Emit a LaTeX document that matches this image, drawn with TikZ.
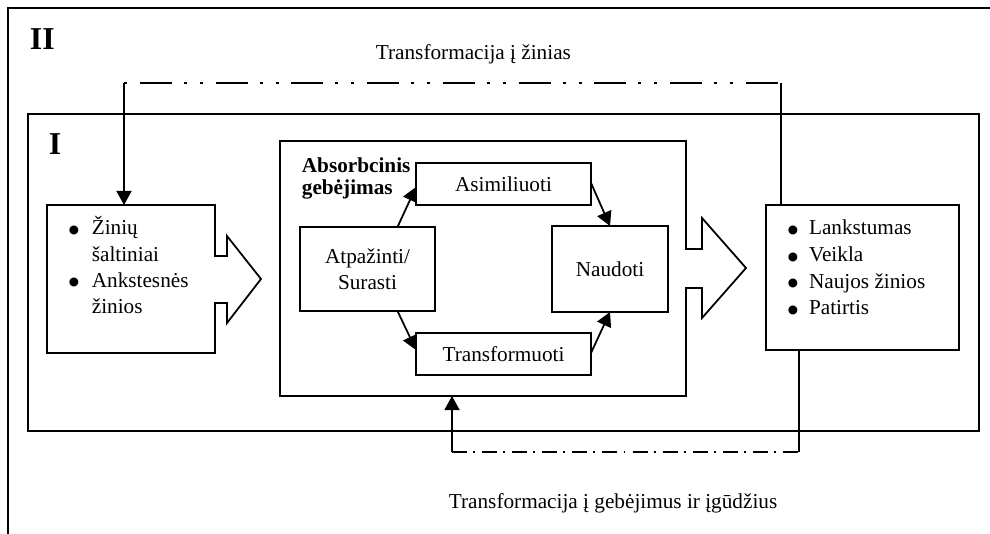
\documentclass[tikz,border=0pt]{standalone}
\usepackage{fontspec}
\setmainfont{Liberation Serif}
\newfontfamily\symfont{DejaVu Sans}
\usetikzlibrary{positioning}
\usetikzlibrary{calc}
\usetikzlibrary{arrows.meta}

\newcommand{\dpx}{0.565pt}
\newcommand{\blt}{\raisebox{0.8pt}{\symfont\fontsize{6.6}{7}\selectfont ●}}

\begin{document}
\begin{tikzpicture}[
    x=\dpx, y=-\dpx,  % one unit is one pixel of the sketch, downwards
    line width=1pt,
    ]
% -------------------------------------------------
\tikzset{
  txt/.style={inner sep=0pt, font=\fontsize{12}{14.8}\selectfont},
  big/.style={inner sep=0pt, anchor=base west, font=\bfseries\fontsize{18}{20}\selectfont},
  area/.style={inner sep=0pt, outer sep=0pt},
  box/.style={area, draw, txt, align=center},
  line/.style={draw, -{Triangle[length=8pt,width=8.5pt]}},
  ddot/.style={line width=1.6pt, dash pattern=on 1.7pt off 7.3pt on 18pt off 6.8pt on 1.7pt off 7.3pt},
  dd/.style={dash pattern=on 8.5pt off 3.4pt on 1.1pt off 4pt}
}
% -------------------------------------------------
\useasboundingbox (0,0) rectangle (990,534);

% Frames
\draw (8,8) rectangle (1010,560);
\node[area, draw, minimum width=951*\dpx, minimum height=317*\dpx] (frI) at (503.5,272.5) {};
\node[big] (lII) at (29,50) {II};
\node[big] (lI) at (48,155) {I};

% Sources
\node[area, minimum width=168*\dpx, minimum height=148*\dpx] (src) at (131,279) {};
\draw (src.north west) -- (src.north east) -- ++(0,51) -- ++(12,0) -- ++(0,-20)
  -- ++(34,43) -- ++(-34,44) -- ++(0,-20) -- ++(-12,0) |- (src.south west) -- cycle;
\node[txt, anchor=base west] (srcT) at (68,235) {\begin{tabular}[t]{@{}l@{\hspace{7.2pt}}l@{}}
  \blt & Žinių\\ & šaltiniai\\ \blt & Ankstesnės\\ & žinios\end{tabular}};

% Absorptive capacity
\node[area, minimum width=406*\dpx, minimum height=255*\dpx] (mid) at (483,268.5) {};
\draw (mid.north west) -- (mid.north east) -- ++(0,108) -- ++(16,0) -- ++(0,-31)
  -- ++(44,50) -- ++(-44,50) -- ++(0,-30) -- ++(-16,0) |- (mid.south west) -- cycle;
\node[txt, anchor=base west, font=\bfseries\fontsize{12}{12.4}\selectfont] (midT) at (301,173)
  {\begin{tabular}[t]{@{}l@{}}Absorbcinis\\ gebėjimas\end{tabular}};

\node[box, minimum width=175*\dpx, minimum height=42*\dpx] (asi) at (503.5,184) {Asimiliuoti};
\node[box, minimum width=135*\dpx, minimum height=84*\dpx] (atp) at (367.5,269) {Atpažinti/\\Surasti};
\node[box, minimum width=116*\dpx, minimum height=86*\dpx] (nau) at (610,269) {Naudoti};
\node[box, minimum width=175*\dpx, minimum height=42*\dpx] (trf) at (503.5,354) {Transformuoti};

\path [line] ($(atp.north)+(30,0)$) -- ($(asi.west)+(0,3)$);
\path [line] ($(asi.east)+(0,-1)$) -- (nau.north);
\path [line] ($(atp.south)+(30,0)$) -- ($(trf.west)+(0,-4)$);
\path [line] ($(trf.east)+(0,-1)$) -- (nau.south);

% Results
\node[box, minimum width=193*\dpx, minimum height=145*\dpx] (res) at (862.5,277.5) {};
\node[txt, anchor=base west, font=\fontsize{12}{15}\selectfont] (resT) at (787,235) {\begin{tabular}[t]{@{}l@{\hspace{6.2pt}}l@{}}
  \blt & Lankstumas\\ \blt & Veikla\\ \blt & Naujos žinios\\ \blt & Patirtis\end{tabular}};

% Feedback to knowledge
\coordinate (tL) at (124,83);
\coordinate (tR) at (781,83);
\draw (tR |- res.north) -- (tR);
\draw [ddot] (tL) -- (tR);
\path [line] (tL) -- (tL |- src.north);
\node[txt, anchor=base west] (tK) at (375,60) {Transformacija į žinias};

% Feedback to skills
\coordinate (bL) at (452,452);
\coordinate (bR) at (799,452);
\draw (bR |- res.south) -- (bR);
\draw [dd] (bL) -- (bR);
\path [line] (bL) -- (bL |- mid.south);
\node[txt, anchor=base west] (tG) at (448,508) {Transformacija į gebėjimus ir įgūdžius};

\end{tikzpicture}
\end{document}
